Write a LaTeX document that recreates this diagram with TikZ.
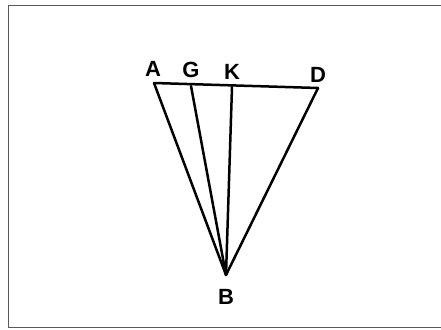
\documentclass[tikz,border=0pt]{standalone}
\usepackage{fontspec}
\setmainfont{Liberation Sans}
\begin{document}
\begin{tikzpicture}[x=1pt,y=-1pt,
  ln/.style={line width=2.5pt,line cap=round,line join=round},
  lbl/.style={font=\fontsize{22}{22}\selectfont\bfseries,inner sep=0pt}]
\useasboundingbox (0,0) rectangle (441,329);
\draw[gray!70!black,line width=1.5pt] (441,5.5) -- (8.5,5.5) -- (8.5,327.5) -- (441,327.5);
\coordinate (A) at (154,83);
\coordinate (G) at (191,86);
\coordinate (K) at (232,87);
\coordinate (D) at (318,88);
\coordinate (B) at (226,275);
\draw[ln] (A) -- (D);
\draw[ln] (A) -- (B) -- (D);
\draw[ln] (G) -- (B);
\draw[ln] (K) -- (B);
\node[lbl] (lA) at (153,69) {A};
\node[lbl] (lG) at (191,70) {G};
\node[lbl] (lK) at (232,72) {K};
\node[lbl] (lD) at (318,75) {D};
\node[lbl] (lB) at (226,297) {B};
\end{tikzpicture}
\end{document}
